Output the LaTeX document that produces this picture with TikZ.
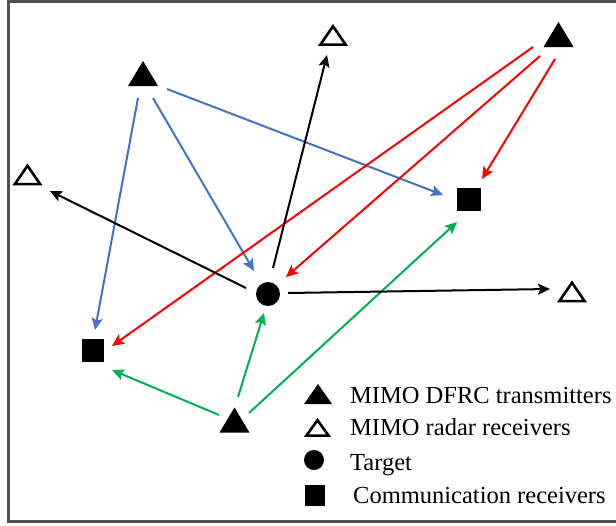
\documentclass[tikz,border=0pt]{standalone}
\usepackage{fontspec}
\setmainfont{Liberation Serif}
\usetikzlibrary{arrows.meta}
\definecolor{linkblue}{RGB}{68,114,196}
\definecolor{linkgreen}{RGB}{0,176,80}
\definecolor{linkred}{RGB}{255,0,0}
\definecolor{framegray}{RGB}{80,80,80}
\tikzset{
  ftri/.style={minimum width=30pt, minimum height=25pt, inner sep=0pt, outer sep=0pt,
    path picture={\fill[black] (path picture bounding box.south west)
      -- (path picture bounding box.north) -- (path picture bounding box.south east) -- cycle;}},
  otri/.style={minimum width=30pt, minimum height=23pt, inner sep=0pt, outer sep=0pt,
    path picture={\draw[black, line width=2.6pt, line join=miter]
      ([shift={(2.4pt,1.4pt)}]path picture bounding box.south west)
      -- ([shift={(0pt,-3.2pt)}]path picture bounding box.north)
      -- ([shift={(-2.4pt,1.4pt)}]path picture bounding box.south east) -- cycle;}},
  dot/.style={circle, fill=black, minimum size=24pt, inner sep=0pt},
  sq/.style={rectangle, fill=black, minimum width=24pt, minimum height=23pt, inner sep=0pt},
  link/.style={line width=2pt, -{Stealth[length=12pt, width=11pt, inset=2.5pt]}},
  bluearr/.style={link, draw=linkblue, fill=linkblue},
  redarr/.style={link, draw=linkred, fill=linkred},
  greenarr/.style={link, draw=linkgreen, fill=linkgreen},
  blackarr/.style={link, draw=black, fill=black},
  legtext/.style={anchor=base west, inner sep=0pt, font=\fontsize{24.5pt}{28pt}\selectfont},
}
\begin{document}
\begin{tikzpicture}[x=1pt, y=-1pt]
\useasboundingbox (0,0) rectangle (616,525);
\clip (0,0) rectangle (616,525);
% frame
\draw[framegray, line width=2.7pt] (8.7,1.3) rectangle (630,521.3);

% transmitters
\node[ftri] (tx1) at (143,73.5) {};
\node[ftri] (tx2) at (558.5,34.5) {};
\node[ftri] (tx3) at (234.5,420) {};
% radar receivers
\node[otri] (rr1) at (333,34.5) {};
\node[otri] (rr2) at (27.5,174) {};
\node[otri] (rr3) at (572,291) {};
% target
\node[dot] (tg) at (268,294) {};
% communication receivers
\node[sq] (cr1) at (469,199.5) {};
\node[sq, minimum width=22pt] (cr2) at (93,350.5) {};

% links from the upper-left transmitter
\draw[bluearr] ([shift={(-5,24.5)}]tx1.center) -- ([shift={(2,-20.5)}]cr2.center);
\draw[bluearr] ([shift={(10,24.5)}]tx1.center) -- ([shift={(-14,-23)}]tg.center);
\draw[bluearr] ([shift={(24,15.5)}]tx1.center) -- ([shift={(-26,-4.5)}]cr1.center);

% links from the upper-right transmitter
\draw[redarr] ([shift={(-25.5,12.5)}]tx2.center) -- ([shift={(19,-4.5)}]cr2.center);
\draw[redarr] ([shift={(-18.5,21.5)}]tx2.center) -- ([shift={(18,-17)}]tg.center);
\draw[redarr] ([shift={(-3.5,24.5)}]tx2.center) -- ([shift={(13,-20.5)}]cr1.center);

% links from the lower transmitter
\draw[greenarr] ([shift={(-15.5,-5)}]tx3.center) -- ([shift={(19,19.5)}]cr2.center);
\draw[greenarr] ([shift={(3.5,-23)}]tx3.center) -- ([shift={(-4,19)}]tg.center);
\draw[greenarr] ([shift={(14.5,-7)}]tx3.center) -- ([shift={(-12,22.5)}]cr1.center);

% echoes from the target
\draw[blackarr] ([shift={(5,-26)}]tg.center) -- ([shift={(-6,20.5)}]rr1.center);
\draw[blackarr] ([shift={(-22,-6)}]tg.center) -- ([shift={(22.5,17)}]rr2.center);
\draw[blackarr] ([shift={(20,-1)}]tg.center) -- ([shift={(-22,-2)}]rr3.center);

% legend
\node[ftri, minimum width=28pt, minimum height=20pt] (lg1) at (318,394) {};
\node[otri, minimum width=27pt, minimum height=20pt] (lg2) at (317.5,427) {};
\node[dot, minimum size=20pt] (lg3) at (314,460) {};
\node[sq, minimum width=20pt, minimum height=21pt] (lg4) at (315,495.5) {};
\node[legtext] (lt1) at (350,403) {MIMO DFRC transmitters};
\node[legtext] (lt2) at (350,435) {MIMO radar receivers};
\node[legtext] (lt3) at (350,470) {Target};
\node[legtext] (lt4) at (353,503) {Communication receivers};
\end{tikzpicture}
\end{document}
